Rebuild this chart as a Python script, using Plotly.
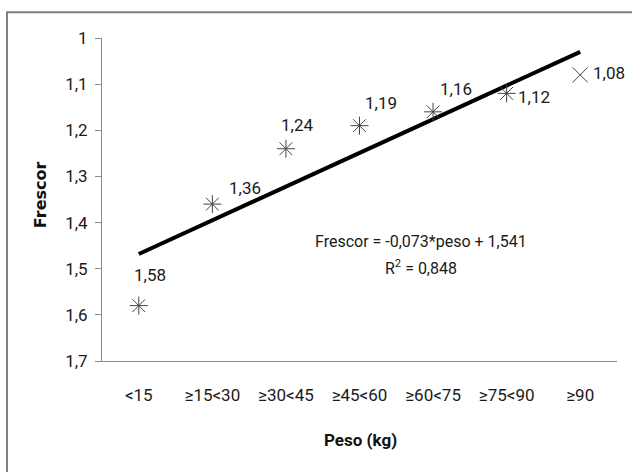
import plotly.graph_objects as go

categories = ["<15", "≥15<30", "≥30<45", "≥45<60", "≥60<75", "≥75<90", "≥90"]
frescor = [1.58, 1.36, 1.24, 1.19, 1.16, 1.12, 1.08]
marker_symbols = ["asterisk-open"] * 6 + ["x-thin-open"]
label_dx = [11, 33, 11, 21, 23, 27, 29]
label_dy = [31, 16, 24, 23, 23, -4, 2]
trend_slope = -0.073
trend_intercept = 1.541
r2 = 0.848
y_ticks = [1, 1.1, 1.2, 1.3, 1.4, 1.5, 1.6, 1.7]

FONT = "Roboto, Noto Sans, sans-serif"

def comma(v, nd):
    return f"{v:.{nd}f}".replace(".", ",")

trend_y = [trend_intercept + trend_slope * (i + 1) for i in range(len(categories))]

fig = go.Figure()
fig.add_trace(go.Scatter(
    x=categories, y=trend_y, mode="lines",
    line=dict(color="black", width=4), hoverinfo="skip", showlegend=False,
))
fig.add_trace(go.Scatter(
    x=categories, y=frescor, mode="markers",
    marker=dict(symbol=marker_symbols, size=15, color="#444444",
                line=dict(color="#444444", width=1)),
    showlegend=False,
))

PW, PH = 515, 323.3

def px(x):
    return (x - 102) / PW

def py(y):
    return (361 - y) / PH

annotations = []
for c, v, dx, dy in zip(categories, frescor, label_dx, label_dy):
    annotations.append(dict(x=c, y=v, text=comma(v, 2), showarrow=False,
                            xshift=dx, yshift=dy, xanchor="center", yanchor="middle",
                            font=dict(family=FONT, size=17, color="#1a1a1a")))

annotations.append(dict(xref="paper", yref="paper", x=px(421), y=py(241),
                        xanchor="center", yanchor="middle",
                        text=f"Frescor = {comma(trend_slope, 3)}*peso + {comma(trend_intercept, 3)}",
                        showarrow=False, font=dict(family=FONT, size=16, color="#1a1a1a")))
annotations.append(dict(xref="paper", yref="paper", x=px(421), y=py(267),
                        xanchor="center", yanchor="middle",
                        text=f"R<sup>2</sup> = {comma(r2, 3)}",
                        showarrow=False, font=dict(family=FONT, size=16, color="#1a1a1a")))
annotations.append(dict(xref="paper", yref="paper", x=px(360), y=py(440),
                        xanchor="center", yanchor="middle",
                        text="<b>Peso (kg)</b>", showarrow=False,
                        font=dict(family=FONT, size=17, color="#111111")))
annotations.append(dict(xref="paper", yref="paper", x=px(40), y=py(195),
                        xanchor="center", yanchor="middle",
                        text="<b>Frescor</b>", showarrow=False, textangle=-90,
                        font=dict(family="DejaVu Sans, sans-serif", size=16, color="#111111")))

fig.update_layout(
    width=632, height=472,
    margin=dict(l=102, r=15, t=38, b=111),
    paper_bgcolor="white", plot_bgcolor="white",
    separators=", ",
    showlegend=False,
    annotations=annotations,
    xaxis=dict(
        type="category", range=[-0.5, 6.5], showgrid=False, zeroline=False,
        showline=True, linecolor="#8a8a8a", linewidth=1, ticks="",
        tickfont=dict(family=FONT, size=17, color="#1a1a1a"), ticklabelstandoff=19,
    ),
    yaxis=dict(
        range=[1.7, 1.0], tickvals=y_ticks, showgrid=False, zeroline=False,
        showline=True, linecolor="#8a8a8a", linewidth=1, ticks="outside",
        ticklen=6, tickcolor="#8a8a8a", ticklabelstandoff=4,
        tickfont=dict(family=FONT, size=17, color="#1a1a1a"),
    ),
    shapes=[dict(type="rect", xref="paper", yref="paper",
                 x0=px(7), x1=px(645), y0=py(485), y1=py(12),
                 line=dict(color="#808080", width=2), layer="below")],
)

fig.write_html("out.html")
